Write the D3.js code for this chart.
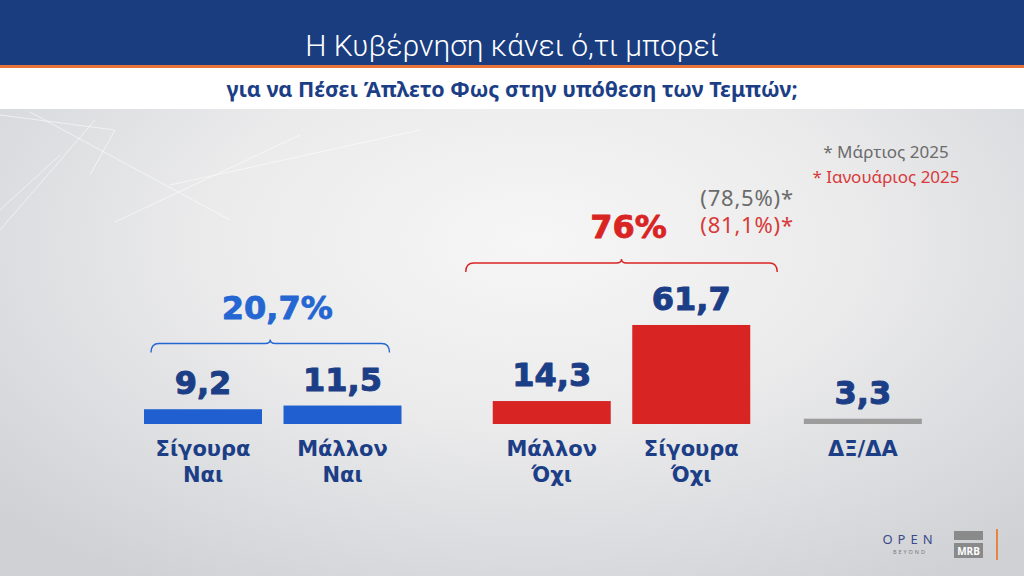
<!DOCTYPE html>
<html>
<head>
<meta charset="utf-8">
<script src="https://cdn.jsdelivr.net/npm/d3@7"></script>
<style>
  html, body { margin: 0; padding: 0; background: #e6e7e9; }
  svg { display: block; }
</style>
</head>
<body>
<div class="poll-chart"></div>
<script>
// data
const categories = ['Σίγουρα Ναι', 'Μάλλον Ναι', 'Μάλλον Όχι', 'Σίγουρα Όχι', 'ΔΞ/ΔΑ'];
const labelLines = [['Σίγουρα', 'Ναι'], ['Μάλλον', 'Ναι'], ['Μάλλον', 'Όχι'], ['Σίγουρα', 'Όχι'], ['ΔΞ/ΔΑ']];
const values = [9.2, 11.5, 14.3, 61.7, 3.3];
const barColors = ['#1f5fd0', '#1f5fd0', '#d92424', '#d92424', '#9c9c9c'];

const groupLabels = ['20,7%', '76%'];
const groupMembers = [[0, 1], [2, 3]];
const groupColors = ['#2466d2', '#d92424'];

const previousLabels = ['(78,5%)*', '(81,1%)*'];
const previousColors = ['#6b6b6b', '#d83a3a'];
const legendLabels = ['* Μάρτιος 2025', '* Ιανουάριος 2025'];

const title = 'Η Κυβέρνηση κάνει ό,τι μπορεί';
const subtitle = 'για να Πέσει Άπλετο Φως στην υπόθεση των Τεμπών;';

makeChart();

function makeChart() {
    const outerWidth = 1024;
    const outerHeight = 576;
    const navy = '#1c3e86';
    const font = "'Noto Sans', 'DejaVu Sans', sans-serif";
    const heavy = "'DejaVu Sans', 'Noto Sans', sans-serif";

    const svg = d3.select('.poll-chart')
                .append('svg')
                .attr('width', outerWidth)
                .attr('height', outerHeight);

    // background
    const defs = svg.append('defs');
    const grad = defs.append('radialGradient')
                .attr('id', 'bg')
                .attr('cx', '52%').attr('cy', '42%').attr('r', '70%');
    grad.append('stop').attr('offset', '0%').attr('stop-color', '#f6f6f6');
    grad.append('stop').attr('offset', '45%').attr('stop-color', '#ebebec');
    grad.append('stop').attr('offset', '100%').attr('stop-color', '#cfd1d5');

    svg.append('rect')
        .attr('width', outerWidth).attr('height', outerHeight)
        .attr('fill', 'url(#bg)');

    // faint geometric lines, upper left
    const deco = [[0, 115, 115, 130], [115, 130, 90, 175], [30, 112, 230, 220], [0, 230, 95, 120],
                  [115, 222, 300, 135], [60, 155, 0, 210], [170, 185, 420, 130]];
    svg.append('g')
        .selectAll('line')
        .data(deco)
        .join('line')
        .attr('x1', d => d[0]).attr('y1', d => d[1])
        .attr('x2', d => d[2]).attr('y2', d => d[3])
        .attr('stroke', '#ffffff')
        .attr('stroke-opacity', 0.55)
        .attr('stroke-width', 1);

    // header
    svg.append('rect').attr('width', outerWidth).attr('height', 66).attr('fill', '#1a3d80');
    svg.append('rect').attr('y', 65).attr('width', outerWidth).attr('height', 3).attr('fill', '#e8743a');
    svg.append('rect').attr('y', 68).attr('width', outerWidth).attr('height', 41).attr('fill', '#ffffff');

    svg.append('text')
        .attr('x', 512).attr('y', 56)
        .attr('text-anchor', 'middle')
        .attr('font-family', "Roboto, 'Open Sans', sans-serif")
        .attr('font-weight', 300)
        .attr('font-size', 30)
        .attr('fill', '#ffffff')
        .text(title);

    svg.append('text')
        .attr('x', 512).attr('y', 97)
        .attr('text-anchor', 'middle')
        .attr('font-family', font)
        .attr('font-weight', 'bold')
        .attr('font-size', 21.5)
        .attr('fill', navy)
        .text(subtitle);

    // scales
    const slots = [0, 1, 2.5, 3.5, 4.73];
    const barWidth = 118;
    const baseline = 424;

    const xScale = d3.scaleLinear()
                .domain([0, 1])
                .range([203, 342.5]);
    const yScale = d3.scaleLinear()
                .domain([0, 100])
                .range([baseline, baseline - 160.5]);

    const cx = i => xScale(slots[i]);

    const rows = categories.map((c, i) => ({category: c, value: values[i], lines: labelLines[i], color: barColors[i], i}));

    // bars
    svg.append('g')
        .selectAll('rect')
        .data(rows)
        .join('rect')
        .attr('x', d => cx(d.i) - barWidth / 2)
        .attr('y', d => yScale(d.value))
        .attr('width', barWidth)
        .attr('height', d => baseline - yScale(d.value))
        .attr('fill', d => d.color);

    // value labels
    svg.append('g')
        .selectAll('text')
        .data(rows)
        .join('text')
        .attr('x', d => cx(d.i))
        .attr('y', d => yScale(d.value) - 15)
        .attr('text-anchor', 'middle')
        .attr('font-family', heavy)
        .attr('font-weight', 'bold')
        .attr('font-size', 32)
        .attr('fill', navy)
        .attr('stroke', navy)
        .attr('stroke-width', 1)
        .attr('stroke-linejoin', 'round')
        .text(d => d3.format('.1f')(d.value).replace('.', ','));

    // category labels, one text per line
    const lineRows = rows.flatMap(d => d.lines.map((l, k) => ({text: l, i: d.i, k})));
    svg.append('g')
        .selectAll('text')
        .data(lineRows)
        .join('text')
        .attr('x', d => cx(d.i))
        .attr('y', d => 456 + d.k * 26)
        .attr('text-anchor', 'middle')
        .attr('font-family', heavy)
        .attr('font-weight', 'bold')
        .attr('font-size', 21)
        .attr('fill', navy)
        .text(d => d.text);

    // group braces and totals
    const braceInset = [-7, 27];
    const groups = groupLabels.map((g, k) => {
        const idx = groupMembers[k];
        const left = cx(idx[0]) - barWidth / 2 - braceInset[k];
        const right = cx(idx[idx.length - 1]) + barWidth / 2 + braceInset[k] - (k === 0 ? 5 : 0);
        const top = yScale(d3.max(idx, i => values[i])) - 62;
        return {label: g, left, right, top, color: groupColors[k]};
    });

    svg.append('g')
        .selectAll('path')
        .data(groups)
        .join('path')
        .attr('d', d => brace(d.left, d.right, d.top))
        .attr('fill', 'none')
        .attr('stroke', d => d.color)
        .attr('stroke-width', 1.4);

    svg.append('g')
        .selectAll('text')
        .data(groups)
        .join('text')
        .attr('x', d => (d.left + d.right) / 2 + 7)
        .attr('y', d => d.top - 25)
        .attr('text-anchor', 'middle')
        .attr('font-family', heavy)
        .attr('font-weight', 'bold')
        .attr('font-size', 32)
        .attr('fill', d => d.color)
        .attr('stroke', d => d.color)
        .attr('stroke-width', 0.8)
        .attr('stroke-linejoin', 'round')
        .text(d => d.label);

    // earlier waves
    const g2 = groups[1];
    svg.append('g')
        .selectAll('text')
        .data(previousLabels)
        .join('text')
        .attr('x', g2.right - 77)
        .attr('y', (d, k) => g2.top - 57 + k * 27)
        .attr('font-family', font)
        .attr('font-size', 22)
        .attr('letter-spacing', 0.8)
        .attr('fill', (d, k) => previousColors[k])
        .text(d => d);

    // legend
    svg.append('g')
        .selectAll('text')
        .data(legendLabels)
        .join('text')
        .attr('x', 886)
        .attr('y', (d, k) => 158 + k * 25)
        .attr('text-anchor', 'middle')
        .attr('font-family', font)
        .attr('font-size', 17)
        .attr('fill', (d, k) => previousColors[k])
        .text(d => d);

    // logos
    const logo = svg.append('g');
    logo.append('text')
        .attr('x', 910).attr('y', 544)
        .attr('text-anchor', 'middle')
        .attr('font-family', font)
        .attr('font-size', 13)
        .attr('letter-spacing', 5)
        .attr('fill', '#3a4a8c')
        .text('OPEN');
    logo.append('text')
        .attr('x', 910).attr('y', 554)
        .attr('text-anchor', 'middle')
        .attr('font-family', font)
        .attr('font-size', 5.5)
        .attr('letter-spacing', 2)
        .attr('fill', '#777')
        .text('BEYOND');
    logo.append('rect').attr('x', 954).attr('y', 531).attr('width', 29).attr('height', 9).attr('fill', '#8a8a8a');
    logo.append('rect').attr('x', 954).attr('y', 543).attr('width', 29).attr('height', 15).attr('fill', '#8a8a8a');
    logo.append('text')
        .attr('x', 968.5).attr('y', 555)
        .attr('text-anchor', 'middle')
        .attr('font-family', font)
        .attr('font-weight', 'bold')
        .attr('font-size', 10)
        .attr('fill', '#ffffff')
        .text('MRB');
    logo.append('line')
        .attr('x1', 997).attr('x2', 997).attr('y1', 529).attr('y2', 560)
        .attr('stroke', '#e8843f').attr('stroke-width', 2);
}

function brace(x0, x1, y) {
    const mid = (x0 + x1) / 2;
    const p = d3.path();
    p.moveTo(x0, y + 9);
    p.quadraticCurveTo(x0, y, x0 + 8, y);
    p.lineTo(mid - 5, y);
    p.quadraticCurveTo(mid, y, mid, y - 4);
    p.quadraticCurveTo(mid, y, mid + 5, y);
    p.lineTo(x1 - 8, y);
    p.quadraticCurveTo(x1, y, x1, y + 9);
    return p.toString();
}
</script>
</body>
</html>
